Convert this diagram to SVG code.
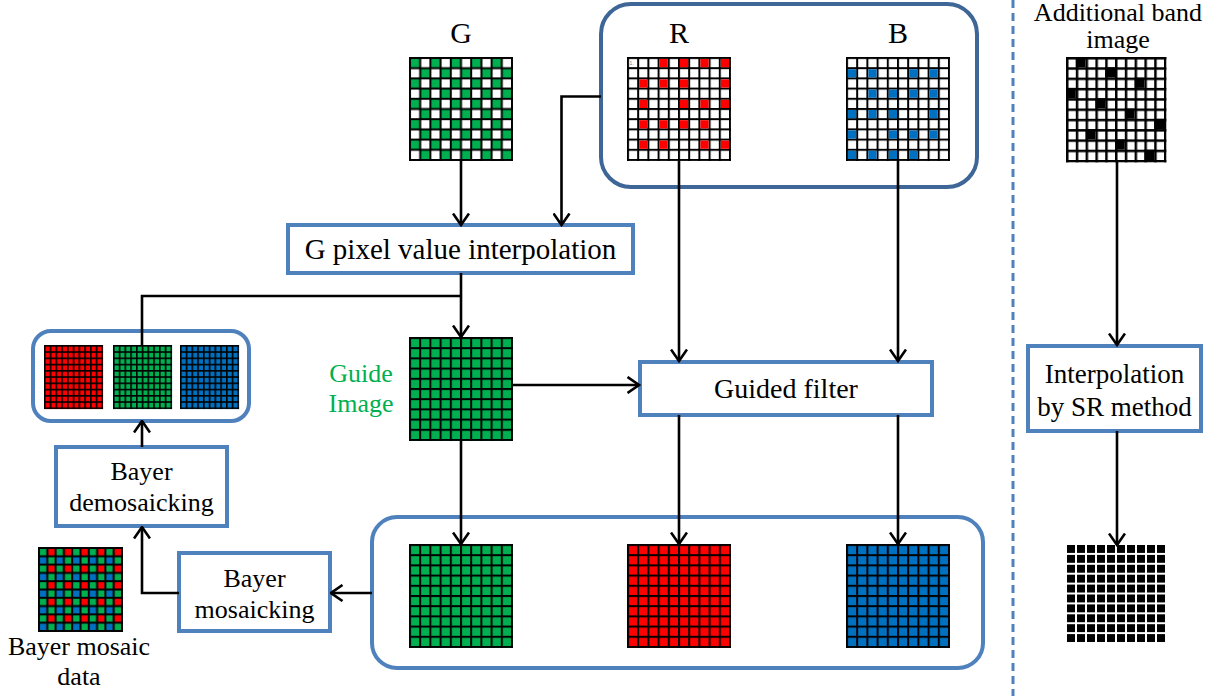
<svg xmlns="http://www.w3.org/2000/svg" width="1226" height="696" viewBox="0 0 1226 696">
<style>
.box{fill:#fff;stroke:#4F81BD;stroke-width:4}
.rbox{fill:none;stroke:#4F81BD;stroke-width:4}
.dbox{fill:none;stroke:#3E6697;stroke-width:4}
.t{font-family:"Liberation Serif","Times New Roman",serif;fill:#000;text-anchor:middle}
.conn{fill:none;stroke:#000;stroke-width:2.6}
.arr{marker-end:url(#ah)}
</style>
<defs>
<marker id="ah" viewBox="0 0 14 18" refX="12.5" refY="9" markerWidth="14" markerHeight="18" markerUnits="userSpaceOnUse" orient="auto">
<path d="M1,1 L12.5,9 L1,17" fill="none" stroke="#000" stroke-width="2.6"/>
</marker>
<pattern id="pW" patternUnits="userSpaceOnUse" width="10.2" height="10.2"><rect width="10.2" height="10.2" fill="#000"/><rect x="2" y="2" width="8.2" height="8.2" fill="#fff"/></pattern>
<pattern id="pWa" patternUnits="userSpaceOnUse" width="9.8" height="10.3"><rect width="9.8" height="10.3" fill="#000"/><rect x="2.5" y="2.5" width="7.3" height="7.8" fill="#fff"/></pattern>
<pattern id="pGf" patternUnits="userSpaceOnUse" width="10.2" height="10.2"><rect width="10.2" height="10.2" fill="#000"/><rect x="2" y="2" width="8.2" height="8.2" fill="#00B050"/></pattern>
<pattern id="pRf" patternUnits="userSpaceOnUse" width="10.2" height="10.2"><rect width="10.2" height="10.2" fill="#000"/><rect x="2" y="2" width="8.2" height="8.2" fill="#FF0000"/></pattern>
<pattern id="pBf" patternUnits="userSpaceOnUse" width="10.2" height="10.2"><rect width="10.2" height="10.2" fill="#000"/><rect x="2" y="2" width="8.2" height="8.2" fill="#0070C0"/></pattern>
<pattern id="chk" patternUnits="userSpaceOnUse" width="20.4" height="20.4"><rect width="20.4" height="20.4" fill="#000"/><rect x="2" y="2" width="8.2" height="8.2" fill="#00B050"/><rect x="12.2" y="2" width="8.2" height="8.2" fill="#fff"/><rect x="2" y="12.2" width="8.2" height="8.2" fill="#fff"/><rect x="12.2" y="12.2" width="8.2" height="8.2" fill="#00B050"/></pattern>
<pattern id="sR" patternUnits="userSpaceOnUse" width="5.75" height="6.25"><rect width="5.75" height="6.25" fill="#000"/><rect x="1.6" y="1.6" width="4.15" height="4.65" fill="#FF0000"/></pattern>
<pattern id="sG" patternUnits="userSpaceOnUse" width="5.75" height="6.25"><rect width="5.75" height="6.25" fill="#000"/><rect x="1.6" y="1.6" width="4.15" height="4.65" fill="#00B050"/></pattern>
<pattern id="sB" patternUnits="userSpaceOnUse" width="5.75" height="6.25"><rect width="5.75" height="6.25" fill="#000"/><rect x="1.6" y="1.6" width="4.15" height="4.65" fill="#0070C0"/></pattern>
<pattern id="bay" patternUnits="userSpaceOnUse" width="16.6" height="16.6"><rect width="16.6" height="16.6" fill="#000"/><rect x="2" y="2" width="6.3" height="6.3" fill="#00B050"/><rect x="10.3" y="2" width="6.3" height="6.3" fill="#FF0000"/><rect x="2" y="10.3" width="6.3" height="6.3" fill="#0070C0"/><rect x="10.3" y="10.3" width="6.3" height="6.3" fill="#00B050"/></pattern>
<pattern id="blk" patternUnits="userSpaceOnUse" width="10" height="9.9"><rect width="8" height="7.9" fill="#000"/></pattern>
</defs>

<g id="divider"><line x1="1013" y1="0" x2="1013" y2="696" stroke="#4F81BD" stroke-width="3" stroke-dasharray="8 5"/></g>

<g id="rb-group"><rect class="dbox" x="601" y="4" width="376" height="183" rx="30"/></g>

<g id="g-input">
<text class="t" x="461" y="43" font-size="30">G</text>
<g transform="translate(409,57)"><rect width="104" height="104" fill="url(#chk)"/></g>
</g>

<g id="r-input">
<text class="t" x="679" y="43" font-size="30">R</text>
<g transform="translate(627,57)">
<rect width="104" height="104" fill="url(#pW)"/>
<g fill="#FF0000">
<rect x="32.6" y="2" width="8.2" height="8.2"/><rect x="53" y="2" width="8.2" height="8.2"/><rect x="73.4" y="2" width="8.2" height="8.2"/><rect x="93.8" y="2" width="8.2" height="8.2"/>
<rect x="12.2" y="22.4" width="8.2" height="8.2"/><rect x="32.6" y="22.4" width="8.2" height="8.2"/><rect x="53" y="22.4" width="8.2" height="8.2"/><rect x="93.8" y="22.4" width="8.2" height="8.2"/>
<rect x="12.2" y="42.8" width="8.2" height="8.2"/><rect x="53" y="42.8" width="8.2" height="8.2"/><rect x="73.4" y="42.8" width="8.2" height="8.2"/><rect x="93.8" y="42.8" width="8.2" height="8.2"/>
<rect x="12.2" y="63.2" width="8.2" height="8.2"/><rect x="32.6" y="63.2" width="8.2" height="8.2"/><rect x="53" y="63.2" width="8.2" height="8.2"/><rect x="73.4" y="63.2" width="8.2" height="8.2"/>
<rect x="12.2" y="83.6" width="8.2" height="8.2"/><rect x="32.6" y="83.6" width="8.2" height="8.2"/><rect x="73.4" y="83.6" width="8.2" height="8.2"/><rect x="93.8" y="83.6" width="8.2" height="8.2"/>
</g>
<text x="2.5" y="8" font-family="Liberation Sans, sans-serif" font-size="5" fill="#777">1.</text>
</g>
</g>

<g id="b-input">
<text class="t" x="898" y="43" font-size="30">B</text>
<g transform="translate(846,57)">
<rect width="104" height="104" fill="url(#pW)"/>
<g fill="#0070C0">
<rect x="2" y="12.2" width="8.2" height="8.2"/><rect x="22.4" y="12.2" width="8.2" height="8.2"/><rect x="63.2" y="12.2" width="8.2" height="8.2"/><rect x="83.6" y="12.2" width="8.2" height="8.2"/>
<rect x="22.4" y="32.6" width="8.2" height="8.2"/><rect x="42.8" y="32.6" width="8.2" height="8.2"/><rect x="63.2" y="32.6" width="8.2" height="8.2"/><rect x="83.6" y="32.6" width="8.2" height="8.2"/>
<rect x="2" y="53" width="8.2" height="8.2"/><rect x="22.4" y="53" width="8.2" height="8.2"/><rect x="42.8" y="53" width="8.2" height="8.2"/><rect x="83.6" y="53" width="8.2" height="8.2"/>
<rect x="2" y="73.4" width="8.2" height="8.2"/><rect x="42.8" y="73.4" width="8.2" height="8.2"/><rect x="63.2" y="73.4" width="8.2" height="8.2"/><rect x="83.6" y="73.4" width="8.2" height="8.2"/>
<rect x="2" y="93.8" width="8.2" height="8.2"/><rect x="22.4" y="93.8" width="8.2" height="8.2"/><rect x="42.8" y="93.8" width="8.2" height="8.2"/><rect x="63.2" y="93.8" width="8.2" height="8.2"/>
</g>
</g>
</g>

<g id="g-interp">
<rect class="box" x="288" y="225" width="345" height="48"/>
<text class="t" x="460.5" y="259" font-size="29">G pixel value interpolation</text>
</g>

<g id="guide-image">
<text class="t" x="361" y="382" font-size="26" style="fill:#00B050">Guide</text>
<text class="t" x="361" y="412" font-size="26" style="fill:#00B050">Image</text>
<g transform="translate(409,337)"><rect width="104" height="104" fill="url(#pGf)"/></g>
</g>

<g id="guided-filter">
<rect class="box" x="640" y="362" width="292" height="53"/>
<text class="t" x="786" y="398" font-size="28">Guided filter</text>
</g>

<g id="output-rgb">
<rect class="rbox" x="372" y="517" width="611" height="151" rx="25"/>
<g transform="translate(409,544)"><rect width="104" height="104" fill="url(#pGf)"/></g>
<g transform="translate(627,544)"><rect width="104" height="104" fill="url(#pRf)"/></g>
<g transform="translate(846,544)"><rect width="104" height="104" fill="url(#pBf)"/></g>
</g>

<g id="demosaiced-rgb">
<rect class="rbox" x="33" y="331" width="216" height="90" rx="18"/>
<g transform="translate(44,345)"><rect width="59.1" height="64.1" fill="url(#sR)"/></g>
<g transform="translate(113,345)"><rect width="59.1" height="64.1" fill="url(#sG)"/></g>
<g transform="translate(180,345)"><rect width="59.1" height="64.1" fill="url(#sB)"/></g>
</g>

<g id="bayer-demosaicking">
<rect class="box" x="56" y="447" width="171" height="79"/>
<text class="t" x="141.5" y="480" font-size="26">Bayer</text>
<text class="t" x="141.5" y="511" font-size="26">demosaicking</text>
</g>

<g id="bayer-mosaicking">
<rect class="box" x="179" y="553" width="151" height="78"/>
<text class="t" x="254.5" y="587" font-size="26">Bayer</text>
<text class="t" x="254.5" y="618" font-size="26">mosaicking</text>
</g>

<g id="bayer-data">
<g transform="translate(38,547)"><rect width="85" height="85" fill="url(#bay)"/></g>
<text class="t" x="79" y="655" font-size="26">Bayer mosaic</text>
<text class="t" x="79" y="685" font-size="26">data</text>
</g>

<g id="additional-band">
<text class="t" x="1118" y="21" font-size="26">Additional band</text>
<text class="t" x="1118" y="48" font-size="26">image</text>
<g transform="translate(1066,57)">
<rect width="100.5" height="105.5" fill="url(#pWa)"/>
<g fill="#000">
<rect x="9.8" y="0" width="9.8" height="10.3"/>
<rect x="39.2" y="10.3" width="9.8" height="10.3"/>
<rect x="68.6" y="20.6" width="9.8" height="10.3"/>
<rect x="0" y="30.9" width="9.8" height="10.3"/>
<rect x="29.4" y="41.2" width="9.8" height="10.3"/>
<rect x="58.8" y="51.5" width="9.8" height="10.3"/>
<rect x="88.2" y="61.8" width="9.8" height="10.3"/>
<rect x="19.6" y="72.1" width="9.8" height="10.3"/>
<rect x="49" y="82.4" width="9.8" height="10.3"/>
<rect x="78.4" y="92.7" width="9.8" height="10.3"/>
</g>
</g>
</g>

<g id="sr-interp">
<rect class="box" x="1028" y="346" width="173" height="85"/>
<text class="t" x="1114.5" y="383" font-size="27">Interpolation</text>
<text class="t" x="1114.5" y="416" font-size="27">by SR method</text>
</g>

<g id="sr-output">
<g transform="translate(1067,545)"><rect width="98" height="98" fill="url(#blk)"/></g>
</g>

<g id="connectors">
<path class="conn arr" d="M461,161 V225"/>
<path class="conn arr" d="M601,96.5 H561.5 V225"/>
<path class="conn arr" d="M679,161 V361"/>
<path class="conn arr" d="M898,161 V361"/>
<path class="conn arr" d="M461,273 V337"/>
<path class="conn" d="M461,296 H142 V345"/>
<path class="conn arr" d="M513,385 H639"/>
<path class="conn arr" d="M461,441 V544"/>
<path class="conn arr" d="M679,415 V544"/>
<path class="conn arr" d="M898,415 V544"/>
<path class="conn arr" d="M372,593 H331"/>
<path class="conn arr" d="M179,593 H142 V527"/>
<path class="conn arr" d="M142,447 V421"/>
<path class="conn arr" d="M1117,162 V345"/>
<path class="conn arr" d="M1117,431 V545"/>
</g>
</svg>
